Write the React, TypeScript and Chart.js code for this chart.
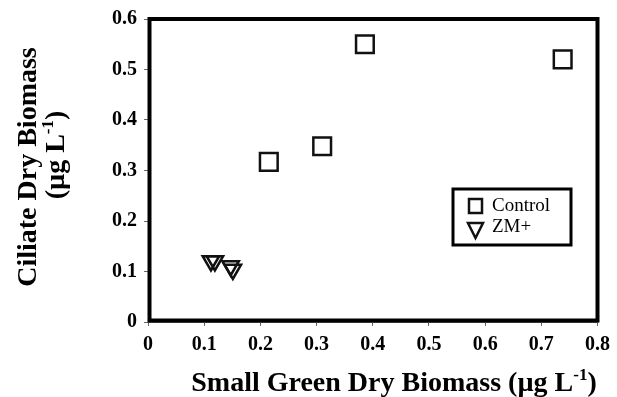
import React, { useEffect, useRef } from "react";
import { Chart, registerables } from "chart.js";

Chart.register(...registerables);

const xTickValues = [0, 0.1, 0.2, 0.3, 0.4, 0.5, 0.6, 0.7, 0.8];
const yTickValues = [0, 0.1, 0.2, 0.3, 0.4, 0.5, 0.6];

const controlX = [0.215, 0.31, 0.386, 0.738];
const controlY = [0.317, 0.348, 0.55, 0.52];
const zmX = [0.112, 0.119, 0.147, 0.151];
const zmY = [0.121, 0.121, 0.111, 0.104];

const seriesNames = ["Control", "ZM+"];
const xTitle = "Small Green Dry Biomass (\u00b5g L";
const yTitle1 = "Ciliate Dry Biomass";
const yTitle2 = "(\u00b5g L";

const SERIF = "'Liberation Serif', 'Times New Roman', serif";

function fmt(v: number) {
  return v === 0 ? "0" : v.toFixed(1);
}

function drawSupText(ctx: CanvasRenderingContext2D, base: string, cx: number, cy: number, size: number) {
  const baseFont = `bold ${size}px ${SERIF}`;
  const supFont = `bold ${Math.round(size * 0.6)}px ${SERIF}`;
  ctx.font = baseFont;
  const w1 = ctx.measureText(base).width;
  const w3 = ctx.measureText(")").width;
  ctx.font = supFont;
  const w2 = ctx.measureText("-1").width;
  const total = w1 + w2 + w3;
  let x = cx - total / 2;
  ctx.textAlign = "left";
  ctx.textBaseline = "alphabetic";
  ctx.font = baseFont;
  ctx.fillText(base, x, cy);
  x += w1;
  ctx.font = supFont;
  ctx.fillText("-1", x, cy - size * 0.4);
  x += w2;
  ctx.font = baseFont;
  ctx.fillText(")", x, cy);
}

const framePlugin = {
  id: "frame",
  beforeDatasetsDraw(chart: any) {
    const { ctx, chartArea: a } = chart;
    ctx.save();
    ctx.strokeStyle = "#000";
    ctx.lineWidth = 4;
    ctx.strokeRect(a.left + 1.5, a.top, a.right - a.left - 1.5, a.bottom - a.top - 1.5);
    ctx.restore();
  },
};

const textPlugin = {
  id: "texts",
  afterDraw(chart: any) {
    const { ctx } = chart;
    ctx.save();
    ctx.fillStyle = "#000";
    // x title
    drawSupText(ctx, xTitle, 394, 391, 28);
    // y title (rotated)
    ctx.save();
    ctx.translate(36, 167);
    ctx.rotate(-Math.PI / 2);
    ctx.font = `bold 28px ${SERIF}`;
    ctx.textAlign = "center";
    ctx.textBaseline = "alphabetic";
    ctx.fillText(yTitle1, 0, 0);
    ctx.restore();
    ctx.save();
    ctx.translate(64, 155);
    ctx.rotate(-Math.PI / 2);
    drawSupText(ctx, yTitle2, 0, 0, 28);
    ctx.restore();

    // legend
    ctx.strokeStyle = "#000";
    ctx.lineWidth = 3;
    ctx.strokeRect(453, 189, 118, 56);
    ctx.lineWidth = 2.5;
    ctx.strokeStyle = "#111";
    ctx.strokeRect(469, 199, 13, 14);
    ctx.beginPath();
    ctx.moveTo(468, 223);
    ctx.lineTo(483, 223);
    ctx.lineTo(475.5, 238);
    ctx.closePath();
    ctx.stroke();
    ctx.font = `19px ${SERIF}`;
    ctx.textAlign = "left";
    ctx.textBaseline = "alphabetic";
    ctx.fillText(seriesNames[0], 492, 211);
    ctx.fillText(seriesNames[1], 492, 232);
    ctx.restore();
  },
};

export default function App() {
  const ref = useRef<HTMLCanvasElement | null>(null);
  useEffect(() => {
    document.body.style.margin = "0";
    const tickFont = { family: SERIF, weight: "bold" as const, size: 20 };
    const chart = new Chart(ref.current!, {
      type: "scatter",
      data: {
        datasets: [
          {
            label: seriesNames[0],
            data: controlX.map((x, i) => ({ x, y: controlY[i] })),
            pointStyle: "rect",
            pointRadius: 12.5,
            pointBorderWidth: 2.5,
            borderColor: "#111",
            backgroundColor: "rgba(255,255,255,0)",
          },
          {
            label: seriesNames[1],
            data: zmX.map((x, i) => ({ x, y: zmY[i] })),
            pointStyle: "triangle",
            rotation: 180,
            pointRadius: 9.5,
            pointBorderWidth: 2.5,
            borderColor: "#111",
            backgroundColor: "rgba(255,255,255,0)",
          },
        ],
      },
      options: {
        animation: false,
        responsive: false,
        events: [],
        layout: { padding: { left: 0, top: 12, right: 15, bottom: 0 } },
        plugins: { legend: { display: false }, tooltip: { enabled: false } },
        scales: {
          x: {
            type: "linear",
            min: 0,
            max: 0.8,
            afterBuildTicks: (s: any) => {
              s.ticks = xTickValues.map((v) => ({ value: v }));
            },
            afterFit: (s: any) => {
              s.height = 75;
            },
            ticks: { font: tickFont, color: "#000", padding: 7, maxRotation: 0, callback: (v: any) => fmt(Number(v)) },
            grid: { drawOnChartArea: false, drawTicks: true, tickLength: 4, color: "#666", lineWidth: 1 },
            border: { display: true, color: "#666", width: 1 },
          },
          y: {
            type: "linear",
            min: 0,
            max: 0.6,
            afterBuildTicks: (s: any) => {
              s.ticks = yTickValues.map((v) => ({ value: v }));
            },
            afterFit: (s: any) => {
              s.width = 148;
            },
            ticks: { font: tickFont, color: "#000", padding: 7, callback: (v: any) => fmt(Number(v)) },
            grid: { drawOnChartArea: false, drawTicks: true, tickLength: 4, color: "#666", lineWidth: 1 },
            border: { display: true, color: "#666", width: 1 },
          },
        },
      },
      plugins: [framePlugin, textPlugin],
    });
    return () => chart.destroy();
  }, []);
  return (
    <div style={{ width: 617, height: 397 }}>
      <canvas ref={ref} width={617} height={397} />
    </div>
  );
}
